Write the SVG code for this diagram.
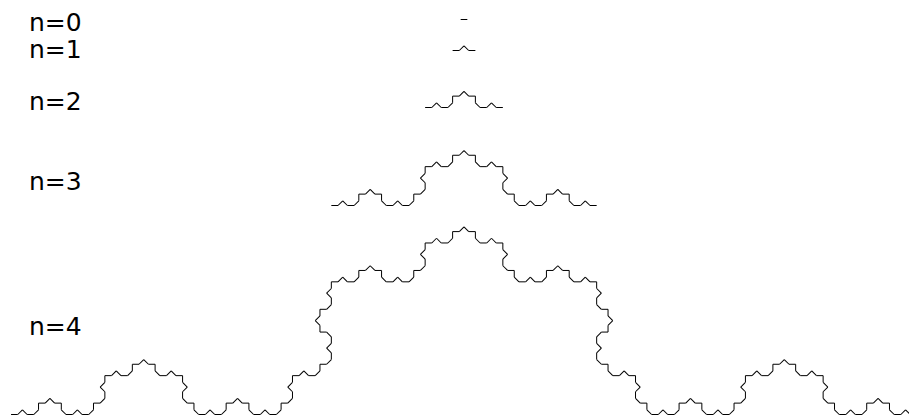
<svg xmlns="http://www.w3.org/2000/svg" xmlns:xlink="http://www.w3.org/1999/xlink" width="909" height="416" viewBox="0 0 909 416">
<style>
.curve{fill:none;stroke:#000;stroke-width:1}
.lbl{font-family:"DejaVu Sans",sans-serif;font-size:25px;fill:#000}
</style>
<defs>
<path id="L0" d="M0,0 H6.6667"/>
<g id="L1">
<use href="#L0"/>
<use href="#L0" transform="translate(6.6667,0) rotate(-45)"/>
<use href="#L0" transform="translate(11.3808,-4.7141) rotate(45)"/>
<use href="#L0" transform="translate(16.0948,0)"/>
</g>
<g id="L2">
<use href="#L1"/>
<use href="#L1" transform="translate(22.7615,0) rotate(-45)"/>
<use href="#L1" transform="translate(38.8563,-16.0948) rotate(45)"/>
<use href="#L1" transform="translate(54.9511,0)"/>
</g>
<g id="L3">
<use href="#L2"/>
<use href="#L2" transform="translate(77.7126,0) rotate(-45)"/>
<use href="#L2" transform="translate(132.6637,-54.9511) rotate(45)"/>
<use href="#L2" transform="translate(187.6148,0)"/>
</g>
<g id="L4">
<use href="#L3"/>
<use href="#L3" transform="translate(265.3274,0) rotate(-45)"/>
<use href="#L3" transform="translate(452.9422,-187.6148) rotate(45)"/>
<use href="#L3" transform="translate(640.5570,0)"/>
</g>
</defs>
<rect width="909" height="416" fill="#fff"/>
<g id="level0" class="curve"><use href="#L0" transform="translate(460.67,19.5)"/></g>
<g id="level1" class="curve"><use href="#L1" transform="translate(452.62,50.5)"/></g>
<g id="level2" class="curve"><use href="#L2" transform="translate(425.14,107.5)"/></g>
<g id="level3" class="curve"><use href="#L3" transform="translate(331.34,205.5)"/></g>
<g id="level4" class="curve"><use href="#L4" transform="translate(11.06,414.5)"/></g>
<g id="labels">
<text class="lbl" x="29" y="31">n=0</text>
<text class="lbl" x="29" y="58">n=1</text>
<text class="lbl" x="29" y="110">n=2</text>
<text class="lbl" x="29" y="190">n=3</text>
<text class="lbl" x="29" y="335">n=4</text>
</g>
</svg>
